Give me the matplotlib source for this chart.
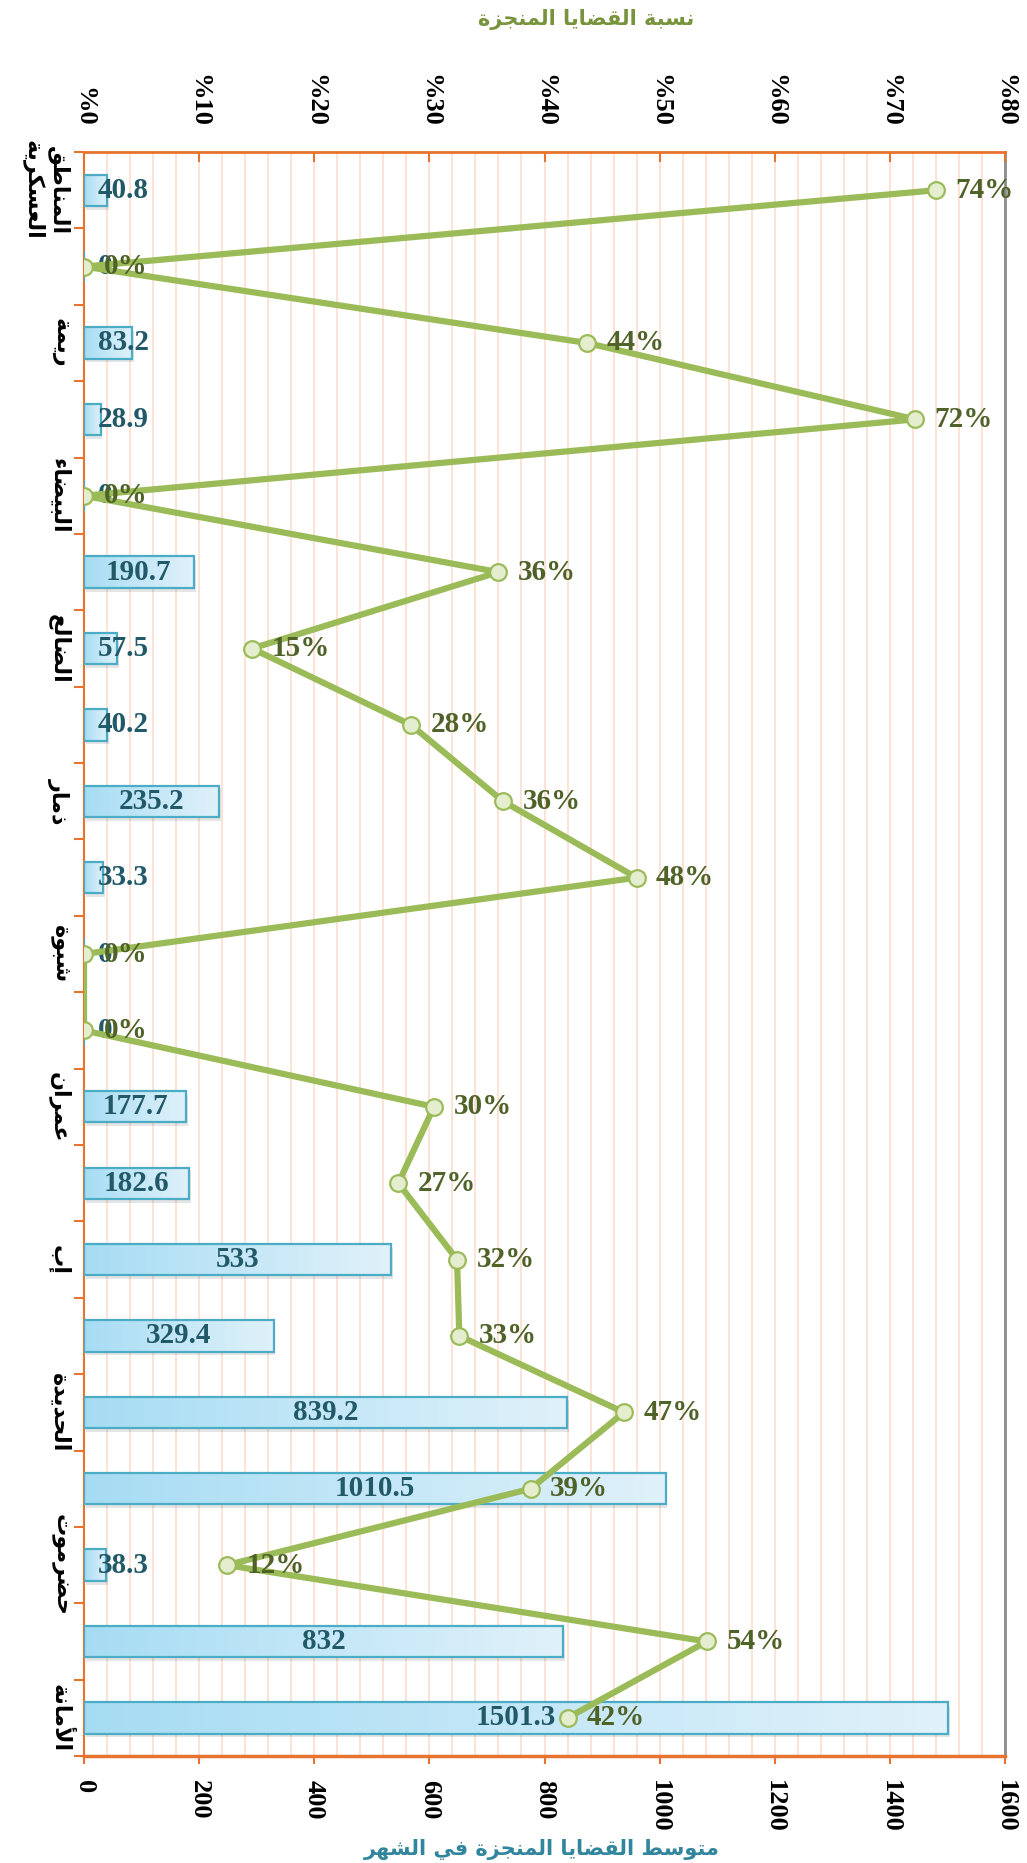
import matplotlib
matplotlib.use('Agg')
import matplotlib.pyplot as plt
import numpy as np
from matplotlib.colors import LinearSegmentedColormap

plt.rcParams['font.family'] = ['Liberation Serif', 'DejaVu Sans']
plt.rcParams['font.weight'] = 'bold'

# categories from top to bottom (Excel only shows every second name)
categories = ['المناطق\nالعسكرية', '', 'ريمة', '', 'البيضاء', '', 'الضالع', '', 'ذمار', '',
              'شبوة', '', 'عمران', '', 'إب', '', 'الحديدة', '', 'حضرموت', '', 'الأمانة']
avg_cases = [40.8, 0, 83.2, 28.9, 0, 190.7, 57.5, 40.2, 235.2, 33.3,
             0, 0, 177.7, 182.6, 533, 329.4, 839.2, 1010.5, 38.3, 832, 1501.3]
done_ratio = [0.740, 0.0, 0.437, 0.722, 0.0, 0.360, 0.146, 0.284, 0.364, 0.480,
              0.0, 0.0, 0.304, 0.273, 0.324, 0.326, 0.469, 0.388, 0.124, 0.541, 0.420]
bottom_ticks = [0, 200, 400, 600, 800, 1000, 1200, 1400, 1600]
top_ticks = [0, 0.1, 0.2, 0.3, 0.4, 0.5, 0.6, 0.7, 0.8]

title_top = 'نسبة القضايا المنجزة'
title_bottom = 'متوسط القضايا المنجزة في الشهر'

# --- minimal arabic shaping (matplotlib has no text shaping) ---
AR_FORMS = {
    'ء': (0xFE80, 1), 'آ': (0xFE81, 2), 'أ': (0xFE83, 2), 'ؤ': (0xFE85, 2), 'إ': (0xFE87, 2),
    'ئ': (0xFE89, 4), 'ا': (0xFE8D, 2), 'ب': (0xFE8F, 4), 'ة': (0xFE93, 2), 'ت': (0xFE95, 4),
    'ث': (0xFE99, 4), 'ج': (0xFE9D, 4), 'ح': (0xFEA1, 4), 'خ': (0xFEA5, 4), 'د': (0xFEA9, 2),
    'ذ': (0xFEAB, 2), 'ر': (0xFEAD, 2), 'ز': (0xFEAF, 2), 'س': (0xFEB1, 4), 'ش': (0xFEB5, 4),
    'ص': (0xFEB9, 4), 'ض': (0xFEBD, 4), 'ط': (0xFEC1, 4), 'ظ': (0xFEC5, 4), 'ع': (0xFEC9, 4),
    'غ': (0xFECD, 4), 'ف': (0xFED1, 4), 'ق': (0xFED5, 4), 'ك': (0xFED9, 4), 'ل': (0xFEDD, 4),
    'م': (0xFEE1, 4), 'ن': (0xFEE5, 4), 'ه': (0xFEE9, 4), 'و': (0xFEED, 2), 'ى': (0xFEEF, 2),
    'ي': (0xFEF1, 4),
}
LAM_ALEF = {'آ': 0xFEF5, 'أ': 0xFEF7, 'إ': 0xFEF9, 'ا': 0xFEFB}


def shape_line(text):
    units = []
    i = 0
    while i < len(text):
        c = text[i]
        if c == 'ل' and i + 1 < len(text) and text[i + 1] in LAM_ALEF:
            units.append((LAM_ALEF[text[i + 1]], 2, True))
            i += 2
        elif c in AR_FORMS:
            b, n = AR_FORMS[c]
            units.append((b, n, True))
            i += 1
        else:
            units.append((c, 0, False))
            i += 1
    out = []
    for k, (b, n, ar) in enumerate(units):
        if not ar:
            out.append(b)
            continue
        prev_j = k > 0 and units[k - 1][2] and units[k - 1][1] == 4
        next_j = n == 4 and k + 1 < len(units) and units[k + 1][2]
        if n == 1:
            idx = 0
        elif prev_j and next_j:
            idx = 3
        elif prev_j:
            idx = 1
        elif next_j:
            idx = 2
        else:
            idx = 0
        out.append(chr(b + idx))
    return ''.join(out)[::-1]


def ar(text):
    return '\n'.join(shape_line(l) for l in text.split('\n'))


AR_FONT = ['DejaVu Sans']
ORANGE = '#E8732F'
BAR_EDGE = '#4BACC6'
LINE_GREEN = '#9BBB59'

fig = plt.figure(figsize=(10.27, 18.63), dpi=100)
ax = fig.add_axes([0.0818, 0.0574, 0.8968, 0.861])

n = len(categories)
y = np.arange(n)
bar_h = 0.41

ax.set_xlim(0, 1600)
ax.set_ylim(n - 0.5, -0.5)

# grid every 40 units
ax.set_xticks(np.arange(0, 1601, 40), minor=True)
ax.grid(which='both', axis='x', color='#FCE3D4', lw=1.4, zorder=0)
ax.set_axisbelow(True)

# soft shadow, then gradient bars
ax.barh(y + 0.05, avg_cases, height=bar_h, left=3, color='#000000', alpha=0.10, lw=0, zorder=1)
bars = ax.barh(y, avg_cases, height=bar_h, facecolor='none', edgecolor=BAR_EDGE, lw=1.6, zorder=3)
cmap = LinearSegmentedColormap.from_list('bl', ['#A6DCF3', '#C4E7F7', '#E0F1FA'])
grad = np.linspace(0, 1, 256).reshape(1, -1)
for rect, v, yi in zip(bars, avg_cases, y):
    if v <= 0:
        continue
    im = ax.imshow(grad, extent=[0, v, yi + bar_h / 2, yi - bar_h / 2], aspect='auto',
                   cmap=cmap, zorder=2, interpolation='bilinear')
    im.set_clip_path(rect)
ax.set_xlim(0, 1600)
ax.set_ylim(n - 0.5, -0.5)

bar_texts = []
for v, yi in zip(avg_cases, y):
    lbl = f'{v:g}'
    t = ax.text(v / 2, yi, lbl, ha='center', va='center', fontsize=21,
                color='#215968', fontweight='bold', zorder=4)
    bar_texts.append(t)

# axes styling
ax.set_xticks(bottom_ticks)
ax.set_xticklabels([str(t) for t in bottom_ticks], rotation=-90, fontsize=19)
ax.tick_params(axis='x', which='major', direction='out', length=6, width=1.5, color=ORANGE, pad=11)
ax.tick_params(axis='x', which='minor', length=0)
ax.set_yticks(np.arange(-0.5, n, 1))
ax.set_yticklabels([])
ax.tick_params(axis='y', which='major', direction='out', length=7, width=1.5, color=ORANGE)
ax.set_yticks(y, minor=True)
ax.set_yticklabels([ar(c) for c in categories], minor=True, rotation=-90, va='center',
                   fontfamily=AR_FONT, fontsize=16, fontweight='bold', multialignment='center')
ax.tick_params(axis='y', which='minor', length=0, pad=10)

for side in ['left', 'top', 'bottom']:
    ax.spines[side].set_color(ORANGE)
ax.spines['left'].set_linewidth(1.5)
ax.spines['bottom'].set_linewidth(2.5)
ax.spines['top'].set_linewidth(2)
ax.spines['right'].set_color('#8C8C8C')
ax.spines['right'].set_linewidth(2)

ax.set_xlabel(ar(title_bottom), fontfamily=AR_FONT, fontsize=15, fontweight='bold', color='#31859C')
ax.xaxis.set_label_coords(0.497, -0.052)

# percentage series on the top axis
ax2 = ax.twiny()
ax2.set_xlim(0, 0.8)
ax2.plot(done_ratio, y, color=LINE_GREEN, lw=4.5, marker='o', markersize=12,
         markerfacecolor='#E4EDCE', markeredgecolor=LINE_GREEN, markeredgewidth=1.6, zorder=5)
for v, yi in zip(done_ratio, y):
    ax2.annotate(f'{round(v * 100)}%', (v, yi), xytext=(14, 0), textcoords='offset points',
                 ha='left', va='center', fontsize=21, color='#4F6228', fontweight='bold', zorder=6)
ax2.set_xticks(top_ticks)
ax2.set_xticklabels([f'%{round(t * 100)}' for t in top_ticks], rotation=-90, fontsize=19)
ax2.tick_params(axis='x', direction='in', length=7, width=1.5, color=ORANGE, pad=18)
for s in ax2.spines.values():
    s.set_visible(False)
ax2.set_xlabel(ar(title_top), fontfamily=AR_FONT, fontsize=15, fontweight='bold', color='#77933C')
ax2.xaxis.set_label_coords(0.545, 1.079)
ax2.set_ylim(n - 0.5, -0.5)

# push short bar labels away from the axis, like the original
fig.canvas.draw()
renderer = fig.canvas.get_renderer()
min_left = ax.transData.transform((24, 0))[0]
for t in bar_texts:
    bb = t.get_window_extent(renderer)
    if bb.x0 < min_left:
        t.set_ha('left')
        t.set_x(24)

fig.savefig('out.png', dpi=100, facecolor='white')
